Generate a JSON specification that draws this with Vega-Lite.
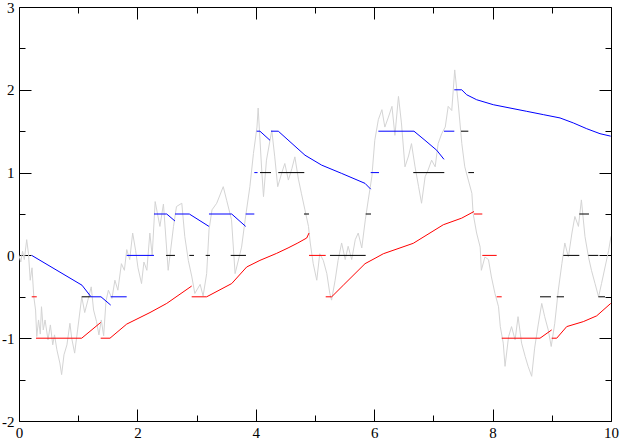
{
  "$schema": "https://vega.github.io/schema/vega-lite/v6.json",
  "width": 592,
  "height": 414,
  "autosize": {"type": "none"},
  "padding": {"left": 19, "top": 7, "right": 12, "bottom": 18},
  "background": "white",
  "config": {"view": {"stroke": "black", "strokeWidth": 1}},
  "datasets": {
    "gray": [
      {"x":0,"y":0.0},{"x":0.03,"y":-0.08},{"x":0.06,"y":0.05},{"x":0.09,"y":-0.05},{"x":0.13,"y":0.19},{"x":0.16,"y":0.02},{"x":0.19,"y":-0.3},{"x":0.22,"y":-0.15},{"x":0.25,"y":-0.5},{"x":0.28,"y":-0.66},{"x":0.3,"y":-0.98},
      {"x":0.33,"y":-0.78},{"x":0.36,"y":-0.95},{"x":0.38,"y":-0.62},{"x":0.41,"y":-0.9},{"x":0.44,"y":-0.78},{"x":0.49,"y":-1.02},{"x":0.53,"y":-0.84},{"x":0.57,"y":-1.08},{"x":0.6,"y":-0.96},{"x":0.64,"y":-1.14},{"x":0.69,"y":-1.3},{"x":0.72,"y":-1.44},{"x":0.76,"y":-1.2},{"x":0.81,"y":-1.08},{"x":0.86,"y":-0.82},{"x":0.89,"y":-1.0},{"x":0.94,"y":-1.18},{"x":0.99,"y":-0.9},{"x":1.06,"y":-0.5},{"x":1.11,"y":-0.69},{"x":1.16,"y":-0.55},{"x":1.22,"y":-0.38},{"x":1.26,"y":-0.66},{"x":1.31,"y":-0.8},{"x":1.35,"y":-0.96},{"x":1.39,"y":-0.78},{"x":1.43,"y":-0.97},{"x":1.47,"y":-0.55},{"x":1.51,"y":-0.42},{"x":1.57,"y":-0.52},{"x":1.62,"y":-0.3},{"x":1.67,"y":-0.42},{"x":1.73,"y":-0.1},{"x":1.78,"y":-0.18},{"x":1.82,"y":0.07},{"x":1.87,"y":-0.05},{"x":1.92,"y":0.27},{"x":1.97,"y":0.06},{"x":2.01,"y":-0.15},{"x":2.07,"y":-0.34},{"x":2.11,"y":-0.08},{"x":2.16,"y":-0.18},{"x":2.21,"y":0.27},{"x":2.25,"y":0.0},{"x":2.3,"y":0.65},{"x":2.38,"y":0.35},{"x":2.44,"y":0.62},{"x":2.52,"y":-0.18},{"x":2.61,"y":0.35},{"x":2.66,"y":0.59},{"x":2.75,"y":0.63},{"x":2.8,"y":0.23},{"x":2.86,"y":-0.06},{"x":2.92,"y":-0.26},{"x":2.97,"y":-0.46},{"x":3.06,"y":-0.35},{"x":3.11,"y":-0.49},{"x":3.17,"y":-0.22},{"x":3.21,"y":0.31},{"x":3.26,"y":0.55},{"x":3.34,"y":0.63},{"x":3.45,"y":0.83},{"x":3.51,"y":0.66},{"x":3.59,"y":0.43},{"x":3.65,"y":-0.22},{"x":3.76,"y":0.1},{"x":3.82,"y":0.43},{"x":3.9,"y":0.83},{"x":3.96,"y":1.23},{"x":4.02,"y":1.55},{"x":4.04,"y":1.78},{"x":4.1,"y":1.03},{"x":4.13,"y":0.71},{"x":4.18,"y":1.15},{"x":4.24,"y":1.39},{"x":4.27,"y":1.51},{"x":4.32,"y":1.19},{"x":4.37,"y":0.83},{"x":4.44,"y":1.0},{"x":4.49,"y":1.11},{"x":4.55,"y":0.91},{"x":4.61,"y":1.05},{"x":4.66,"y":1.19},{"x":4.72,"y":0.92},{"x":4.77,"y":0.75},{"x":4.83,"y":0.55},{"x":4.89,"y":0.35},{"x":4.92,"y":0.15},{"x":4.97,"y":-0.1},{"x":5.03,"y":-0.3},{"x":5.08,"y":0.02},{"x":5.14,"y":-0.06},{"x":5.2,"y":-0.22},{"x":5.25,"y":-0.46},{"x":5.28,"y":-0.54},{"x":5.34,"y":-0.3},{"x":5.39,"y":-0.06},{"x":5.45,"y":0.15},{"x":5.51,"y":-0.05},{"x":5.56,"y":0.11},{"x":5.62,"y":-0.05},{"x":5.68,"y":0.19},{"x":5.73,"y":0.27},{"x":5.79,"y":0.09},{"x":5.85,"y":0.43},{"x":5.9,"y":0.67},{"x":5.96,"y":0.95},{"x":6.01,"y":1.39},{"x":6.07,"y":1.64},{"x":6.13,"y":1.76},{"x":6.18,"y":1.55},{"x":6.24,"y":1.67},{"x":6.3,"y":1.8},{"x":6.35,"y":1.45},{"x":6.41,"y":1.92},{"x":6.46,"y":1.6},{"x":6.52,"y":1.07},{"x":6.58,"y":1.2},{"x":6.63,"y":1.35},{"x":6.69,"y":1.07},{"x":6.75,"y":0.83},{"x":6.8,"y":0.63},{"x":6.86,"y":0.95},{"x":6.91,"y":1.03},{"x":6.97,"y":1.15},{"x":7.03,"y":1.07},{"x":7.08,"y":1.35},{"x":7.14,"y":1.47},{"x":7.2,"y":1.55},{"x":7.25,"y":1.8},{"x":7.31,"y":1.75},{"x":7.36,"y":2.24},{"x":7.42,"y":1.83},{"x":7.48,"y":1.35},{"x":7.53,"y":1.07},{"x":7.59,"y":0.91},{"x":7.65,"y":0.75},{"x":7.67,"y":0.51},{"x":7.73,"y":0.27},{"x":7.79,"y":0.1},{"x":7.81,"y":-0.18},{"x":7.87,"y":-0.02},{"x":7.93,"y":-0.05},{"x":7.98,"y":-0.26},{"x":8.04,"y":-0.46},{"x":8.1,"y":-0.62},{"x":8.13,"y":-0.86},{"x":8.18,"y":-1.06},{"x":8.21,"y":-1.34},{"x":8.27,"y":-0.98},{"x":8.32,"y":-0.86},{"x":8.38,"y":-1.02},{"x":8.43,"y":-0.74},{"x":8.49,"y":-1.06},{"x":8.55,"y":-1.22},{"x":8.6,"y":-1.34},{"x":8.66,"y":-1.46},{"x":8.71,"y":-1.12},{"x":8.77,"y":-0.84},{"x":8.83,"y":-0.58},{"x":8.88,"y":-0.74},{"x":8.94,"y":-0.9},{"x":8.99,"y":-1.1},{"x":9.05,"y":-0.82},{"x":9.11,"y":-0.42},{"x":9.17,"y":-0.1},{"x":9.22,"y":0.15},{"x":9.28,"y":-0.02},{"x":9.34,"y":0.27},{"x":9.39,"y":0.47},{"x":9.45,"y":0.35},{"x":9.5,"y":0.67},{"x":9.56,"y":0.23},{"x":9.62,"y":-0.02},{"x":9.67,"y":-0.18},{"x":9.73,"y":-0.34},{"x":9.79,"y":-0.5},{"x":9.84,"y":-0.34},{"x":9.9,"y":-0.14},{"x":9.96,"y":0.06},{"x":10.0,"y":0.23}
    ],
    "curves": [
      {"s":"blue","g":"b1","x":0.215,"y":0},{"s":"blue","g":"b1","x":1.064,"y":-0.36},{"s":"blue","g":"b1","x":1.216,"y":-0.5},{"s":"blue","g":"b1","x":1.385,"y":-0.5},{"s":"blue","g":"b1","x":1.549,"y":-0.6},
      {"s":"blue","g":"b2","x":1.549,"y":-0.5},{"s":"blue","g":"b2","x":1.819,"y":-0.5},
      {"s":"blue","g":"b3","x":1.819,"y":0},{"s":"blue","g":"b3","x":2.28,"y":0},
      {"s":"blue","g":"b4","x":2.28,"y":0.5},{"s":"blue","g":"b4","x":2.495,"y":0.5},{"s":"blue","g":"b4","x":2.635,"y":0.415},
      {"s":"blue","g":"b5","x":2.635,"y":0.5},{"s":"blue","g":"b5","x":2.877,"y":0.5},{"s":"blue","g":"b5","x":3.209,"y":0.35},
      {"s":"blue","g":"b6","x":3.209,"y":0.5},{"s":"blue","g":"b6","x":3.593,"y":0.5},{"s":"blue","g":"b6","x":3.829,"y":0.35},
      {"s":"blue","g":"b7","x":3.829,"y":0.5},{"s":"blue","g":"b7","x":3.975,"y":0.5},
      {"s":"blue","g":"b8","x":3.975,"y":1},{"s":"blue","g":"b8","x":4.03,"y":1},
      {"s":"blue","g":"b9","x":4.015,"y":1.5},{"s":"blue","g":"b9","x":4.07,"y":1.5},{"s":"blue","g":"b9","x":4.24,"y":1.39},
      {"s":"blue","g":"b10","x":4.257,"y":1.5},{"s":"blue","g":"b10","x":4.38,"y":1.5},{"s":"blue","g":"b10","x":4.831,"y":1.21},{"s":"blue","g":"b10","x":5.113,"y":1.09},{"s":"blue","g":"b10","x":5.451,"y":0.99},{"s":"blue","g":"b10","x":5.845,"y":0.87},{"s":"blue","g":"b10","x":5.941,"y":0.8},
      {"s":"blue","g":"b11","x":5.941,"y":1},{"s":"blue","g":"b11","x":6.081,"y":1},
      {"s":"blue","g":"b12","x":6.07,"y":1.5},{"s":"blue","g":"b12","x":6.672,"y":1.5},{"s":"blue","g":"b12","x":6.858,"y":1.39},{"s":"blue","g":"b12","x":7.056,"y":1.27},{"s":"blue","g":"b12","x":7.179,"y":1.16},
      {"s":"blue","g":"b13","x":7.179,"y":1.5},{"s":"blue","g":"b13","x":7.353,"y":1.5},
      {"s":"blue","g":"b14","x":7.353,"y":2},{"s":"blue","g":"b14","x":7.478,"y":2},{"s":"blue","g":"b14","x":7.563,"y":1.94},{"s":"blue","g":"b14","x":7.731,"y":1.88},{"s":"blue","g":"b14","x":8.012,"y":1.82},{"s":"blue","g":"b14","x":8.294,"y":1.78},{"s":"blue","g":"b14","x":8.576,"y":1.74},{"s":"blue","g":"b14","x":8.857,"y":1.7},{"s":"blue","g":"b14","x":9.139,"y":1.66},{"s":"blue","g":"b14","x":9.363,"y":1.6},{"s":"blue","g":"b14","x":9.59,"y":1.53},{"s":"blue","g":"b14","x":9.814,"y":1.47},{"s":"blue","g":"b14","x":9.995,"y":1.44},
      {"s":"red","g":"r1","x":0.215,"y":-0.5},{"s":"red","g":"r1","x":0.3,"y":-0.5},
      {"s":"red","g":"r2","x":0.287,"y":-1},{"s":"red","g":"r2","x":1.059,"y":-1},{"s":"red","g":"r2","x":1.38,"y":-0.81},
      {"s":"red","g":"r3","x":1.38,"y":-1},{"s":"red","g":"r3","x":1.537,"y":-1},{"s":"red","g":"r3","x":1.819,"y":-0.83},{"s":"red","g":"r3","x":2.213,"y":-0.69},{"s":"red","g":"r3","x":2.495,"y":-0.58},{"s":"red","g":"r3","x":2.917,"y":-0.37},
      {"s":"red","g":"r4","x":2.917,"y":-0.5},{"s":"red","g":"r4","x":3.17,"y":-0.5},{"s":"red","g":"r4","x":3.593,"y":-0.34},{"s":"red","g":"r4","x":3.846,"y":-0.14},{"s":"red","g":"r4","x":4.07,"y":-0.06},{"s":"red","g":"r4","x":4.353,"y":0.025},{"s":"red","g":"r4","x":4.545,"y":0.09},{"s":"red","g":"r4","x":4.71,"y":0.15},{"s":"red","g":"r4","x":4.86,"y":0.21},{"s":"red","g":"r4","x":4.899,"y":0.27},
      {"s":"red","g":"r5","x":4.899,"y":0},{"s":"red","g":"r5","x":5.181,"y":0},
      {"s":"red","g":"r6","x":5.181,"y":-0.5},{"s":"red","g":"r6","x":5.282,"y":-0.5},{"s":"red","g":"r6","x":5.478,"y":-0.36},{"s":"red","g":"r6","x":5.845,"y":-0.1},{"s":"red","g":"r6","x":6.014,"y":-0.035},{"s":"red","g":"r6","x":6.154,"y":0.02},{"s":"red","g":"r6","x":6.66,"y":0.146},{"s":"red","g":"r6","x":7.167,"y":0.37},{"s":"red","g":"r6","x":7.478,"y":0.45},{"s":"red","g":"r6","x":7.686,"y":0.53},
      {"s":"red","g":"r7","x":7.686,"y":0.5},{"s":"red","g":"r7","x":7.826,"y":0.5},
      {"s":"red","g":"r8","x":7.826,"y":0},{"s":"red","g":"r8","x":8.069,"y":0},
      {"s":"red","g":"r9","x":8.069,"y":-0.5},{"s":"red","g":"r9","x":8.154,"y":-0.5},
      {"s":"red","g":"r10","x":8.154,"y":-1},{"s":"red","g":"r10","x":8.801,"y":-1},{"s":"red","g":"r10","x":8.998,"y":-0.9},
      {"s":"red","g":"r11","x":8.998,"y":-1},{"s":"red","g":"r11","x":9.083,"y":-1},{"s":"red","g":"r11","x":9.252,"y":-0.86},{"s":"red","g":"r11","x":9.532,"y":-0.8},{"s":"red","g":"r11","x":9.758,"y":-0.73},{"s":"red","g":"r11","x":9.995,"y":-0.58}
    ],
    "dashes": [
      {"x":1.059,"x2":1.211,"y":-0.5},{"x":8.801,"x2":8.986,"y":-0.5},{"x":9.083,"x2":9.206,"y":-0.5},{"x":9.786,"x2":9.899,"y":-0.5},
      {"x":2.483,"x2":2.635,"y":0},{"x":2.877,"x2":2.956,"y":0},{"x":3.154,"x2":3.226,"y":0},{"x":3.576,"x2":3.834,"y":0},{"x":5.253,"x2":5.856,"y":0},{"x":9.194,"x2":9.465,"y":0},{"x":9.617,"x2":9.786,"y":0},
      {"x":4.814,"x2":4.899,"y":0.5},{"x":5.856,"x2":5.946,"y":0.5},{"x":9.465,"x2":9.628,"y":0.5},
      {"x":4.071,"x2":4.257,"y":1},{"x":4.38,"x2":4.819,"y":1},{"x":6.66,"x2":7.184,"y":1},{"x":7.59,"x2":7.686,"y":1},
      {"x":7.466,"x2":7.59,"y":1.5}
    ]
  },
  "resolve": {"axis": {"x": "independent", "y": "independent"}},
  "layer": [
    {
      "data": {"name": "gray"},
      "mark": {"type": "line", "color": "#d4d4d4", "strokeWidth": 1, "clip": true},
      "encoding": {
        "x": {"field": "x", "type": "quantitative",
          "scale": {"domain": [0, 10], "nice": false, "zero": false},
          "axis": {"orient": "bottom", "title": null, "values": [0,2,4,6,8,10], "domain": false, "grid": false,
            "ticks": false, "tickSize": 0, "format": "d", "labelFlush": false, "labelOverlap": false,
            "labelFont": "Liberation Serif", "labelFontSize": 15, "labelColor": "black", "labelPadding": 4}},
        "y": {"field": "y", "type": "quantitative",
          "scale": {"domain": [-2, 3], "nice": false, "zero": false},
          "axis": {"orient": "left", "title": null, "values": [-2,-1,0,1,2,3], "domain": false, "grid": false,
            "ticks": false, "tickSize": 0, "labelExpr": "datum.value < 0 ? '-' + abs(datum.value) : '' + datum.value", "labelFlush": false, "labelOverlap": false,
            "labelFont": "Liberation Serif", "labelFontSize": 15, "labelColor": "black", "labelPadding": 5}}
      }
    },
    {
      "data": {"name": "dashes"},
      "mark": {"type": "rule", "color": "black", "strokeWidth": 1},
      "encoding": {
        "x": {"field": "x", "type": "quantitative",
          "axis": {"orient": "top", "title": null, "values": [0,1,2,3,4,5,6,7,8,9,10], "domain": false, "grid": false, "labels": false,
            "tickColor": "black", "tickSize": {"condition": {"test": "datum.value % 2 === 0", "value": -12}, "value": -6}}},
        "x2": {"field": "x2"},
        "y": {"field": "y", "type": "quantitative",
          "axis": {"orient": "right", "title": null, "values": [-2,-1.5,-1,-0.5,0,0.5,1,1.5,2,2.5,3], "domain": false, "grid": false, "labels": false,
            "tickColor": "black", "tickSize": {"condition": {"test": "datum.value % 1 === 0", "value": -12}, "value": -6}}}
      }
    },
    {
      "data": {"name": "curves"},
      "mark": {"type": "line", "strokeWidth": 1},
      "encoding": {
        "x": {"field": "x", "type": "quantitative",
          "axis": {"orient": "bottom", "title": null, "values": [0,1,2,3,4,5,6,7,8,9,10], "domain": false, "grid": false, "labels": false,
            "tickColor": "black", "tickSize": {"condition": {"test": "datum.value % 2 === 0", "value": -12}, "value": -6}}},
        "y": {"field": "y", "type": "quantitative",
          "axis": {"orient": "left", "title": null, "values": [-2,-1.5,-1,-0.5,0,0.5,1,1.5,2,2.5,3], "domain": false, "grid": false, "labels": false,
            "tickColor": "black", "tickSize": {"condition": {"test": "datum.value % 1 === 0", "value": -12}, "value": -6}}},
        "detail": {"field": "g"},
        "color": {"field": "s", "type": "nominal", "scale": {"domain": ["blue", "red"], "range": ["#0000ff", "#ff0000"]}, "legend": null}
      }
    }
  ]
}
